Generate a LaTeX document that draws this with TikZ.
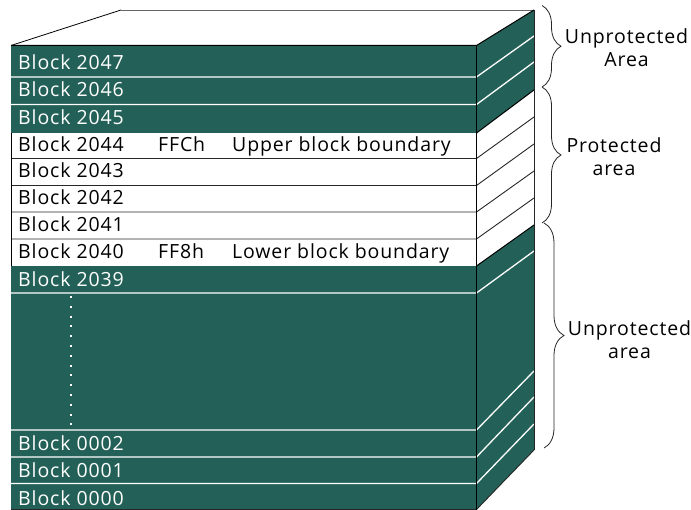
\documentclass[tikz,border=0pt]{standalone}
\usepackage{fontspec}
\setmainfont[LetterSpace=4.5]{Open Sans}
\usetikzlibrary{decorations.pathreplacing, positioning}
\definecolor{blockgreen}{RGB}{35, 97, 88}

\tikzset{
  blocktext/.style={anchor=base west, inner sep=0pt, font=\fontsize{19.5}{20}\selectfont},
  arealabel/.style={align=center, inner sep=0pt, font=\fontsize{19.5}{23.5}\selectfont},
  arealine/.style={draw=black!85, line width=0.9pt},
  whiteline/.style={draw=white, line width=1.3pt},
  areabrace/.style={draw=black!85, line width=0.8pt, decorate, decoration={brace, amplitude=#1}}
}

\begin{document}
\begin{tikzpicture}[x=1pt, y=-1pt]
      \useasboundingbox (0,0) rectangle (691,510);

      % top face
      \draw[line width=0.9pt, black!60] (121,10) -- (534,10);
      \draw[line width=0.8pt] (11,45.5) -- (121,10);

      % front and side, green parts
      \fill[blockgreen] (11,45.5) rectangle (476.5,133);
      \fill[blockgreen] (476.5,45.5) -- (534,10) -- (534,90) -- (476.5,133) -- cycle;
      \fill[blockgreen] (11,266) rectangle (476.5,509.5);
      \fill[blockgreen] (476.5,266) -- (534,225) -- (534,450) -- (476.5,509.5) -- cycle;

      % lines between the blocks
      \foreach \yf/\ys in {77/36, 104.5/62, 293/251, 430/371, 457/397, 483.5/424} {
        \draw[whiteline] (11,\yf) -- (476.5,\yf) -- (534,\ys);
      }
      \foreach \yf/\ys in {158.5/117, 185.5/144, 212/171, 239/198} {
        \draw[arealine] (11,\yf) -- (476.5,\yf) -- (534,\ys);
      }

      % outline
      \draw[line width=1pt] (11,45.5) -- (476.5,45.5) -- (534,10);
      \draw[line width=1pt] (476.5,133) -- (534,90);
      \draw[line width=1pt] (476.5,266) -- (534,225);
      \draw[line width=0.9pt, black!85] (476.5,509.5) -- (534,450);
      \draw[line width=0.9pt, black!85] (11,509.5) -- (476.5,509.5);
      \draw[line width=1.2pt] (476.5,45.5) -- (476.5,509.5);
      \draw[line width=0.9pt, black!85] (534,10) -- (534,450);
      \draw[line width=0.9pt] (11,133) -- (11,266);

      \draw[white, line width=2pt, dash pattern=on 2pt off 7.8pt] (71,296) -- (71,425);

      % block names
      \foreach \nr/\yb/\col in {2047/69.5/white, 2046/97/white, 2045/124.5/white,
                                2044/151.6/black, 2043/178/black, 2042/205/black,
                                2041/232/black, 2040/259/black, 2039/286.7/white,
                                0002/450/white, 0001/477.7/white, 0000/505.6/white} {
        \node[blocktext, text=\col] (block\nr) at (18,\yb) {Block \nr};
      }
      \node[blocktext] (addrupper) at (158,151.6) {FFCh};
      \node[blocktext] (nameupper) at (232,151.6) {Upper block boundary};
      \node[blocktext] (addrlower) at (158,259) {FF8h};
      \node[blocktext] (namelower) at (232,259) {Lower block boundary};

      % braces
      \draw[areabrace=19pt] (542,5.5) -- (542,87);
      \draw[areabrace=19pt] (542,87) -- (542,223);
      \draw[areabrace=20pt] (544,223) -- (544,448);

      \node[arealabel] (toparea) at (626.5,47.5) {Unprotected\\Area};
      \node[arealabel] (midarea) at (614,156.5) {Protected\\area};
      \node[arealabel] (lowarea) at (629.5,339.5) {Unprotected\\area};
    \end{tikzpicture}
\end{document}
